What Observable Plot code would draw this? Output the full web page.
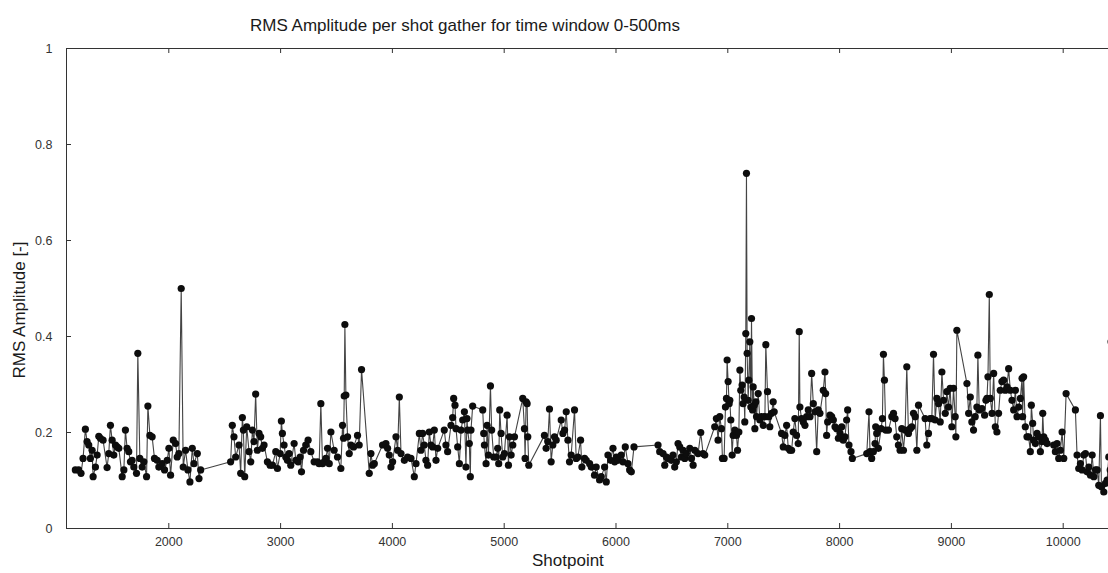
<!DOCTYPE html>
<html><head><meta charset="utf-8">
<script src="https://cdn.jsdelivr.net/npm/d3@7"></script>
<script src="https://cdn.jsdelivr.net/npm/@observablehq/plot@0.6"></script>
<style>
html,body{margin:0;padding:0;overflow:hidden;background:#fff;}
#wrap{position:relative;width:1108px;height:573px;overflow:hidden;font-family:"Liberation Sans",Arial,sans-serif;}
#chart{position:absolute;left:0;top:0;width:1180px;height:573px;}
#chart svg{max-width:none !important;display:block;}
.lbl{position:absolute;font-size:17px;line-height:17px;color:#1a1a1a;white-space:nowrap;}
</style></head><body>
<div id="wrap">
<div id="chart"></div>
<div class="lbl" id="title" style="left:250px;top:17px;">RMS Amplitude per shot gather for time window 0-500ms</div>
<div class="lbl" id="xlabel" style="left:532px;top:552px;">Shotpoint</div>
<div class="lbl" id="ylabel" style="left:19px;top:310px;transform:translate(-50%,-50%) rotate(-90deg);">RMS Amplitude [-]</div>
</div>
<script>
const xTicks = [2000, 3000, 4000, 5000, 6000, 7000, 8000, 9000, 10000];
const yTicks = [0, 0.2, 0.4, 0.6, 0.8, 1];
const xDomain = [1085, 11000];

const shotpoint = [
1164,1194,1215,1233,1254,1269,1284,1299,1314,1323,1344,1359,1374,1388,1412,1448,1463,1478,1493,1508,1523,1538,1553,1583,1598,1612,1627,1642,1657,1672,1687,1711,1723,1741,1762,1777,1801,1813,1831,1851,1872,1896,1911,1941,1962,1986,2001,2016,2040,2061,2075,2090,2111,2129,2150,2171,2189,2210,2225,2255,2270,2285,
2553,2568,2583,2598,2628,2643,2658,2667,2679,2697,2718,2733,2748,2762,2777,2792,2807,2822,2837,2852,2882,2906,2927,2957,2972,2996,3007,3016,3031,3046,3061,3076,3091,3121,3136,3157,3175,3187,3205,3225,3246,3270,3300,3330,3345,3360,3375,3390,3405,3420,3435,3450,3479,3509,3539,3554,3563,3569,3575,3584,3599,3614,3629,3653,3688,3703,3724,3793,3808,3823,3838,3912,3942,3957,3972,3987,4002,4032,4047,4062,4077,4107,4136,4166,4196,4211,4241,
4255,4270,4285,4300,4315,4330,4345,4360,4375,4390,4405,4464,4479,4494,4524,4539,4548,4560,4569,4584,4599,4614,4629,4644,4658,4667,4673,4688,4697,4703,4718,4808,4817,4823,4838,4847,4859,4877,4888,4906,4927,4942,4951,4960,4972,4987,5002,5026,5038,5047,5062,5077,5092,5166,5181,5187,5196,5205,5211,5220,5360,5375,5390,5405,5420,5435,5450,5465,5510,5525,5540,5555,5570,5584,5599,5629,5644,5659,5683,5695,5719,5734,5764,5779,5808,5823,5853,5868,5898,5913,5928,5952,5973,5988,6003,6018,6047,6062,6083,6107,6122,6137,6161,
6376,6391,6421,6436,6451,6466,6495,6510,6525,6540,6555,6570,6585,6600,6615,6630,6660,6675,6690,6705,6734,6758,6779,6794,6883,6898,6913,6928,6943,6952,6967,6979,6988,6994,7003,7012,7018,7027,7039,7048,7063,7078,7087,7099,7108,7116,7128,7137,7146,7152,7161,7167,7173,7182,7188,7197,7206,7212,7221,7227,7236,7242,7251,7257,7272,7287,7302,7317,7332,7340,7355,7367,7376,7391,7406,7415,7481,7496,7511,7526,7541,7556,7571,7585,7600,7615,7630,7639,7645,7660,7675,7690,7705,7720,7735,7750,7765,7780,7795,7809,7824,7854,7869,7875,7884,7893,7914,7929,7944,7959,7974,7989,8004,8019,8033,8048,8063,8072,8084,8102,8114,
8243,8263,8272,8287,8302,8317,8323,8332,8347,8371,8383,8392,8401,8413,8437,8467,8482,8496,8511,8526,8541,8556,8571,8586,8601,8616,8631,8646,8661,8676,8691,8706,8765,8780,8795,8810,8825,8840,8855,8870,8885,8900,8915,8930,8945,8959,8974,8989,9004,9019,9034,9040,9049,9139,9154,9169,9183,9198,9213,9228,9237,9249,9273,9297,9309,9318,9327,9339,9348,9363,9378,9393,9407,9422,9437,9452,9467,9482,9497,9512,9527,9542,9557,9572,9587,9602,9617,9632,9637,9646,9661,9676,9691,9706,9715,9727,9736,9751,9766,9781,9796,9811,9817,9826,9841,9856,9915,9930,9945,9960,9975,9990,10005,10026,10109,10124,10139,10154,10169,10184,10199,10214,10229,10244,10259,10274,10289,10304,10318,10333,10342,10363,10378,10393,10408,10420,10428,10470,10500
];

const rmsAmplitude = [
.122,.122,.115,.146,.207,.181,.174,.146,.163,.108,.128,.153,.192,.188,.184,.127,.156,.215,.184,.153,.174,.170,.167,.108,.122,.205,.167,.160,.139,.142,.128,.115,.365,.146,.128,.139,.108,.255,.194,.191,.146,.142,.128,.135,.122,.142,.167,.111,.184,.177,.149,.156,.500,.128,.163,.122,.097,.167,.135,.156,.104,.122,
.139,.215,.191,.149,.174,.115,.231,.205,.108,.212,.160,.139,.205,.181,.280,.163,.198,.191,.167,.174,.139,.132,.132,.160,.125,.156,.224,.198,.174,.149,.142,.156,.132,.177,.142,.139,.149,.118,.163,.174,.184,.160,.139,.139,.135,.260,.135,.139,.146,.167,.135,.201,.163,.149,.125,.215,.188,.276,.425,.278,.191,.156,.174,.170,.194,.174,.331,.115,.156,.132,.135,.174,.177,.167,.153,.128,.139,.191,.163,.274,.156,.142,.149,.146,.108,.135,.198,
.163,.198,.174,.142,.132,.201,.174,.170,.205,.142,.167,.205,.174,.160,.215,.231,.271,.257,.208,.170,.135,.205,.226,.243,.128,.229,.205,.177,.108,.205,.255,.247,.198,.174,.135,.215,.153,.297,.205,.149,.149,.167,.135,.247,.198,.149,.156,.236,.132,.191,.153,.174,.191,.271,.208,.146,.264,.260,.191,.132,.194,.167,.181,.249,.139,.174,.191,.184,.226,.198,.205,.243,.184,.139,.153,.247,.146,.149,.184,.128,.146,.142,.135,.128,.111,.128,.101,.108,.128,.097,.153,.142,.167,.139,.149,.142,.153,.139,.170,.135,.122,.118,.170,
.174,.160,.156,.132,.149,.146,.142,.153,.128,.139,.177,.170,.149,.163,.146,.156,.167,.146,.132,.163,.156,.200,.156,.153,.212,.229,.184,.233,.208,.146,.146,.253,.271,.351,.306,.260,.267,.226,.153,.194,.205,.194,.163,.201,.330,.288,.299,.260,.274,.222,.406,.740,.365,.267,.309,.389,.253,.4375,.247,.295,.257,.208,.264,.233,.281,.226,.233,.215,.233,.383,.285,.233,.212,.240,.264,.243,.198,.170,.194,.215,.167,.163,.163,.201,.229,.194,.177,.410,.253,.229,.222,.215,.233,.247,.233,.323,.260,.243,.160,.247,.240,.288,.326,.281,.194,.222,.236,.233,.226,.212,.208,.188,.198,.212,.184,.191,.226,.247,.174,.160,.146,
.156,.243,.160,.146,.160,.177,.212,.198,.167,.208,.229,.363,.309,.205,.205,.233,.240,.229,.191,.174,.163,.208,.163,.205,.337,.198,.208,.212,.240,.233,.163,.257,.229,.174,.198,.229,.229,.363,.226,.271,.260,.222,.326,.267,.240,.285,.253,.292,.212,.292,.233,.191,.413,.302,.240,.274,.222,.205,.233,.253,.361,.247,.250,.236,.267,.271,.316,.4875,.271,.240,.323,.212,.201,.240,.288,.306,.309,.288,.295,.333,.288,.267,.247,.288,.233,.253,.271,.313,.233,.316,.212,.191,.191,.160,.257,.219,.184,.177,.198,.191,.160,.181,.240,.191,.184,.177,.174,.160,.177,.146,.163,.201,.146,.281,.247,.153,.125,.135,.122,.153,.156,.118,.128,.111,.153,.108,.122,.122,.090,.235,.087,.076,.094,.101,.149,.122,.389,.110,.090
];

const data = shotpoint.map((s, i) => ({s, v: rmsAmplitude[i]}));

const W = 1180, H = 573;
const mt = 48, mb = 45, ml = 66, mr = 5.5;
const innerW = W - ml - mr, innerH = H - mt - mb;

const chart = Plot.plot({
  width: W, height: H,
  marginTop: mt, marginBottom: mb, marginLeft: ml, marginRight: mr,
  style: {fontFamily: "Liberation Sans, Arial, sans-serif", fontSize: "12.5px", color: "#333", background: "white", maxWidth: "none"},
  x: {domain: xDomain},
  y: {domain: [0, 1]},
  marks: [
    Plot.axisX({ticks: xTicks, tickSize: 0, tickPadding: 9, tickFormat: d => String(d), label: null, fontSize: 12.5}),
    Plot.axisY({ticks: yTicks, tickSize: 0, tickPadding: 14, tickFormat: d => String(d), label: null, fontSize: 12.5}),
    Plot.ruleX(xTicks, {x: d => d, insetTop: innerH - 5, stroke: "#333"}),
    Plot.ruleX(xTicks, {x: d => d, insetBottom: innerH - 5, stroke: "#333"}),
    Plot.ruleY(yTicks.slice(1, -1), {y: d => d, insetRight: innerW - 5, stroke: "#333"}),
    Plot.line(data, {x: "s", y: "v", stroke: "#444", strokeWidth: 1.1}),
    Plot.dot(data, {x: "s", y: "v", r: 3.6, fill: "#0d0d0d", stroke: "none"}),
    Plot.frame({stroke: "#333"})
  ]
});
document.getElementById("chart").appendChild(chart);
</script>
</body></html>
